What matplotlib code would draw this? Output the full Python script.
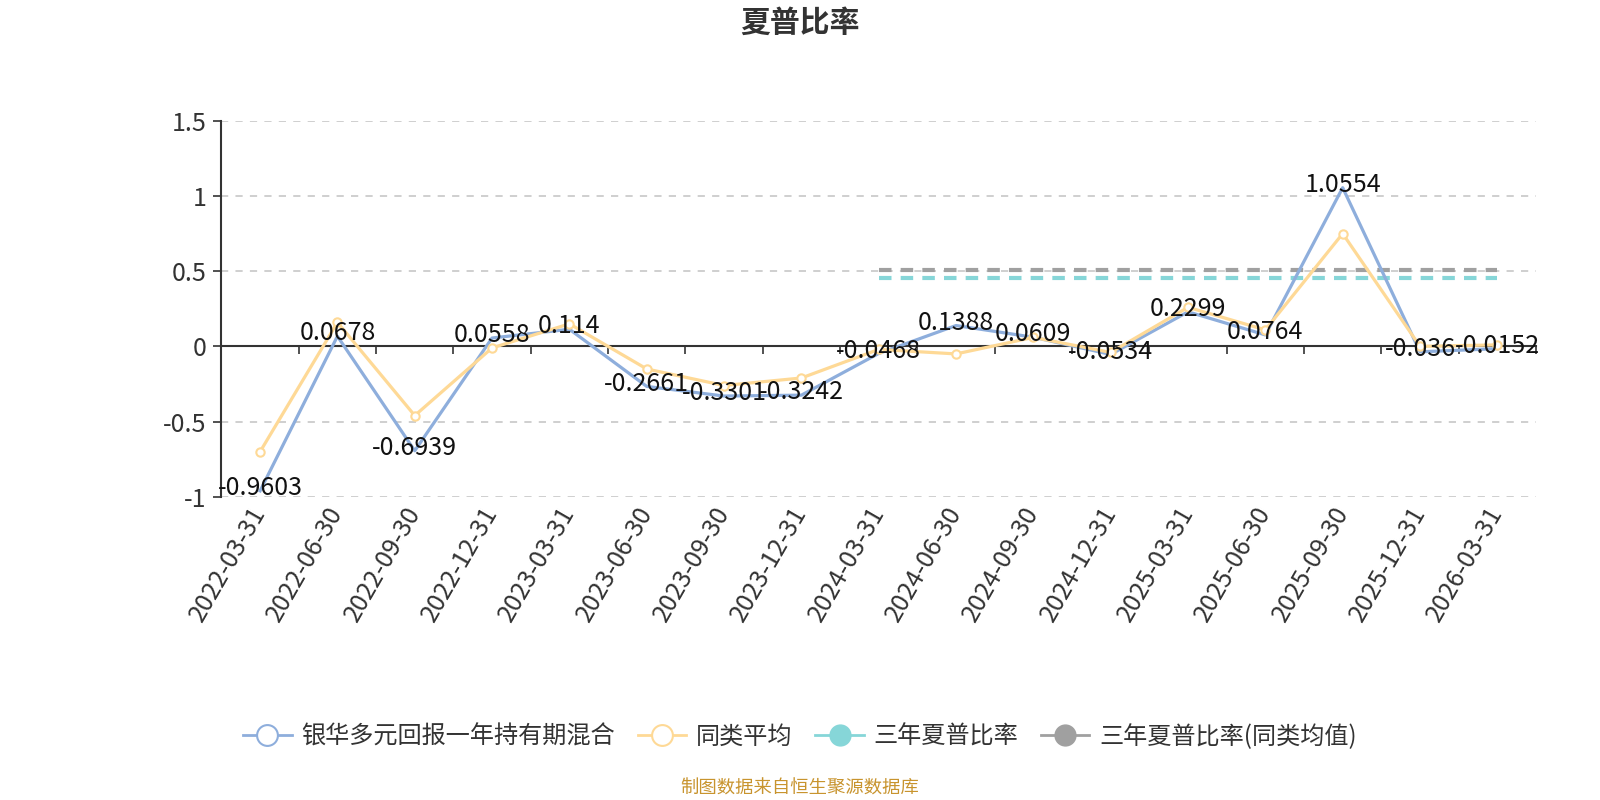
import numpy as np
import matplotlib
matplotlib.use("Agg")
import matplotlib.pyplot as plt
from matplotlib.lines import Line2D
from matplotlib import transforms

plt.rcParams['font.family'] = ['Noto Sans CJK SC', 'DejaVu Sans']
plt.rcParams['axes.unicode_minus'] = False

# data
dates = ["2022-03-31", "2022-06-30", "2022-09-30", "2022-12-31",
         "2023-03-31", "2023-06-30", "2023-09-30", "2023-12-31",
         "2024-03-31", "2024-06-30", "2024-09-30", "2024-12-31",
         "2025-03-31", "2025-06-30", "2025-09-30", "2025-12-31",
         "2026-03-31"]
fund = [-0.9603, 0.0678, -0.6939, 0.0558, 0.114, -0.2661, -0.3301, -0.3242,
        -0.0468, 0.1388, 0.0609, -0.0534, 0.2299, 0.0764, 1.0554, -0.036,
        -0.0152]
peer_avg = [-0.70, 0.16, -0.46, -0.01, 0.15, -0.15, -0.26, -0.21,
            -0.02, -0.05, 0.06, -0.04, 0.26, 0.11, 0.75, 0.00, 0.01]
sharpe_3y = 0.457
sharpe_3y_peer = 0.51
sharpe_3y_start = 8  # from 2024-03-31 onwards

yticks = [-1, -0.5, 0, 0.5, 1, 1.5]
ytick_labels = ["-1", "-0.5", "0", "0.5", "1", "1.5"]

blue = "#8eaedc"
yellow = "#fed996"
cyan = "#86d6d8"
gray = "#a0a0a0"

fig = plt.figure(figsize=(16, 8), dpi=100)
ax = fig.add_axes([0.1384, 0.379, 0.8216, 0.470])

x = np.arange(len(dates))
ax.plot(x, fund, color=blue, lw=2.3, zorder=3)
ax.plot(x, peer_avg, color=yellow, lw=2.3, marker="o", ms=6,
        mfc="white", mec=yellow, mew=1.5, zorder=4)

xs = x[sharpe_3y_start:]
ax.plot(xs, [sharpe_3y] * len(xs), color=cyan, lw=3, ls=(0, (3, 2.2)), zorder=2)
ax.plot(xs, [sharpe_3y_peer] * len(xs), color=gray, lw=3, ls=(0, (3, 2.2)), zorder=2)

for xi, v in zip(x, fund):
    ax.annotate(f"{v:g}", (xi, v), xytext=(0, 2), textcoords="offset points",
                ha="center", va="center", fontsize=18, color="#111111", zorder=5)

ax.set_xlim(-0.5, len(dates) - 0.5)
ax.set_ylim(-1, 1.5)
ax.set_yticks(yticks)
ax.set_yticklabels(ytick_labels, fontsize=18, color="#333333")
ax.set_xticks(np.arange(-0.5, len(dates)))
ax.set_xticklabels([])
ax.tick_params(axis="x", length=6, width=1.2, color="#333333", direction="out")
ax.tick_params(axis="y", length=6, width=1.2, color="#333333", pad=5)

for yv in yticks:
    if yv != 0:
        ax.axhline(yv, color="#cccccc", lw=1.3, ls=(0, (4, 4)), zorder=1)

for s in ["top", "right"]:
    ax.spines[s].set_visible(False)
ax.spines["bottom"].set_position(("data", 0))
ax.spines["bottom"].set_color("#333333")
ax.spines["bottom"].set_linewidth(1.5)
ax.spines["left"].set_color("#333333")
ax.spines["left"].set_linewidth(1.5)

trans = transforms.blended_transform_factory(ax.transData, ax.transAxes)
for xi, d in zip(x, dates):
    ax.text(xi, -0.03, d, transform=trans, rotation=60, rotation_mode="anchor",
            ha="right", va="center", fontsize=18, color="#333333")

fig.text(0.5, 0.972, "夏普比率", ha="center", va="center", fontsize=21.5,
         fontweight="bold", color="#333333")

handles = [
    Line2D([], [], color=blue, lw=2, marker="o", ms=15, mfc="white", mec=blue, mew=1.5),
    Line2D([], [], color=yellow, lw=2, marker="o", ms=15, mfc="white", mec=yellow, mew=1.5),
    Line2D([], [], color=cyan, lw=2, marker="o", ms=15, mfc=cyan, mec=cyan),
    Line2D([], [], color=gray, lw=2, marker="o", ms=15, mfc=gray, mec=gray),
]
labels = ["银华多元回报一年持有期混合", "同类平均", "三年夏普比率", "三年夏普比率(同类均值)"]
fig.legend(handles, labels, loc="center", bbox_to_anchor=(0.5, 0.079), ncol=4,
           frameon=False, fontsize=17.4, handlelength=2.0, handletextpad=0.4,
           columnspacing=0.95, labelcolor="#333333")

fig.text(0.5, 0.014, "制图数据来自恒生聚源数据库", ha="center", va="center",
         fontsize=13.2, color="#c8942e")

fig.savefig("out.png", dpi=100)
